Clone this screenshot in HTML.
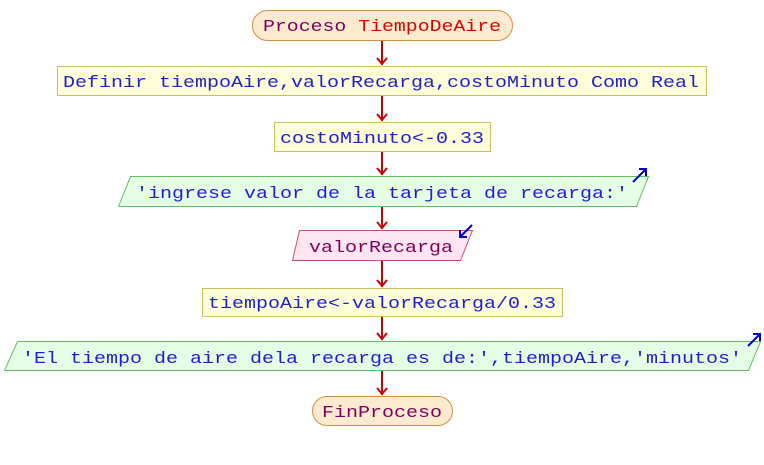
<!DOCTYPE html>
<html><head><style>body{margin:0;background:#fff}</style></head><body>
<svg width="764" height="460" xmlns="http://www.w3.org/2000/svg" font-family="'Liberation Mono',monospace" font-size="17">
<g stroke="#c00" stroke-width="2" fill="none">
<line x1="382" y1="40" x2="382" y2="65"/><path d="M377,58 L382,64 L387,58"/>
<line x1="382" y1="95" x2="382" y2="121"/><path d="M377,114 L382,120 L387,114"/>
<line x1="382" y1="151" x2="382" y2="175"/><path d="M377,168 L382,174 L387,168"/>
<line x1="382" y1="206" x2="382" y2="229"/><path d="M377,222 L382,228 L387,222"/>
<line x1="382" y1="260" x2="382" y2="287"/><path d="M377,280 L382,286 L387,280"/>
<line x1="382" y1="316" x2="382" y2="340"/><path d="M377,333 L382,339 L387,333"/>
<line x1="382" y1="370" x2="382" y2="395"/><path d="M377,388 L382,394 L387,388"/>
</g>
<rect x="252.5" y="10.5" width="260" height="30" rx="15" fill="#fdebd0" stroke="#d09048"/>
<text x="382" y="31" text-anchor="middle" fill="#800060" textLength="238" lengthAdjust="spacingAndGlyphs">Proceso <tspan fill="#e00000">TiempoDeAire</tspan></text>
<rect x="57.5" y="66.5" width="649" height="29" fill="#fefed8" stroke="#c8c060"/>
<text x="63" y="87" fill="#2020d0" textLength="636" lengthAdjust="spacingAndGlyphs">Definir tiempoAire,valorRecarga,costoMinuto Como Real</text>
<rect x="274.5" y="122.5" width="216" height="29" fill="#fefed8" stroke="#c8c060"/>
<text x="280" y="143" fill="#2020d0" textLength="204" lengthAdjust="spacingAndGlyphs">costoMinuto&lt;-0.33</text>
<polygon points="130.5,176.5 648.5,176.5 636.5,206.5 118.5,206.5" fill="#e6fde6" stroke="#60c060"/>
<text x="136" y="198" fill="#2020d0" textLength="492" lengthAdjust="spacingAndGlyphs">'ingrese valor de la tarjeta de recarga:'</text>
<g stroke="#0000c0" stroke-width="2" fill="none"><line x1="633" y1="182" x2="646" y2="169"/><path d="M639,169 L646,169 L646,176"/></g>
<polygon points="299.5,230.5 472.5,230.5 460.5,260.5 292.5,260.5" fill="#fde6f0" stroke="#c05080"/>
<text x="309" y="252" fill="#800060" textLength="144" lengthAdjust="spacingAndGlyphs">valorRecarga</text>
<g stroke="#0000c0" stroke-width="2" fill="none"><line x1="472" y1="225" x2="460" y2="237"/><path d="M460,230 L460,237 L467,237"/></g>
<rect x="202.5" y="288.5" width="360" height="28" fill="#fefed8" stroke="#c8c060"/>
<text x="208" y="308" fill="#2020d0" textLength="348" lengthAdjust="spacingAndGlyphs">tiempoAire&lt;-valorRecarga/0.33</text>
<polygon points="17.5,341.5 760.5,341.5 748.5,370.5 4.5,370.5" fill="#e6fde6" stroke="#60c060"/>
<text x="22" y="363" fill="#2020d0" textLength="720" lengthAdjust="spacingAndGlyphs">'El tiempo de aire dela recarga es de:',tiempoAire,'minutos'</text>
<g stroke="#0000c0" stroke-width="2" fill="none"><line x1="748" y1="346" x2="760" y2="334"/><path d="M753,334 L760,334 L760,341"/></g>
<rect x="312.5" y="396.5" width="140" height="29" rx="14.5" fill="#fdebd0" stroke="#d09048"/>
<text x="382" y="417" text-anchor="middle" fill="#800060" textLength="120" lengthAdjust="spacingAndGlyphs">FinProceso</text>
</svg>
</body></html>
